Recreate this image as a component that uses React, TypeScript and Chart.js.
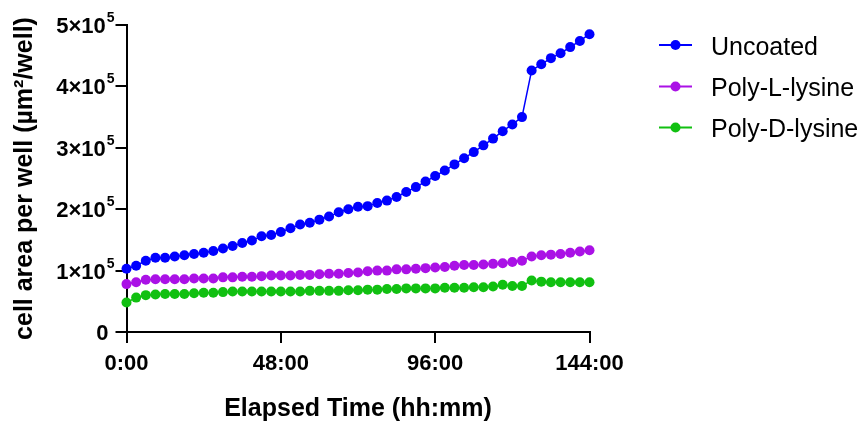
import React, { useEffect, useRef } from 'react';
import { Chart, registerables } from 'chart.js';

Chart.register(...registerables);

const FONT = '"Liberation Sans", Arial, Helvetica, sans-serif';

const hours = [
  0, 3, 6, 9, 12, 15, 18, 21, 24, 27, 30, 33, 36, 39, 42, 45, 48, 51, 54, 57, 60, 63, 66, 69, 72,
  75, 78, 81, 84, 87, 90, 93, 96, 99, 102, 105, 108, 111, 114, 117, 120, 123, 126, 129, 132, 135,
  138, 141, 144,
];

const uncoated = [
  103000, 108000, 116000, 121000, 121000, 123000, 125000, 127000, 129000, 132000, 136000, 140000,
  145000, 149000, 156000, 158000, 163000, 169000, 175000, 178000, 183000, 188000, 195000, 200000,
  204000, 205000, 210000, 214000, 220000, 228000, 236000, 245000, 254000, 263000, 273000, 283000,
  293000, 304000, 315000, 327000, 338000, 350000, 426000, 436000, 446000, 454000, 464000, 474000,
  485000,
];

const polyL = [
  78000, 81000, 85000, 86000, 86000, 86000, 86000, 87000, 87000, 87000, 89000, 89000, 90000, 90000,
  91000, 92000, 92000, 92000, 93000, 93000, 94000, 95000, 95000, 96000, 97000, 99000, 100000,
  100000, 102000, 102000, 103000, 104000, 105000, 106000, 108000, 109000, 109000, 110000, 111000,
  112000, 114000, 116000, 123000, 125000, 126000, 127000, 129000, 131000, 133000,
];

const polyD = [
  48000, 56000, 60000, 61000, 62000, 62000, 62000, 63000, 64000, 64000, 65000, 66000, 66000, 66000,
  66000, 66000, 66000, 66000, 66000, 67000, 67000, 67000, 67000, 68000, 68000, 69000, 69000, 70000,
  70000, 71000, 71000, 71000, 71000, 72000, 72000, 72000, 73000, 73000, 74000, 77000, 75000, 75000,
  84000, 82000, 81000, 81000, 81000, 81000, 81000,
];

const seriesNames = ['Uncoated', 'Poly-L-lysine', 'Poly-D-lysine'];
const seriesColors = ['#0000FF', '#AA11E6', '#11C011'];
const xTickValues = [0, 48, 96, 144];
const yTickValues = [0, 100000, 200000, 300000, 400000, 500000];
const xTitle = 'Elapsed Time (hh:mm)';
const yTitle = 'cell area per well (µm²/well)';

const customPlugin = {
  id: 'customDraw',
  afterDraw(chart: any) {
    const ctx = chart.ctx;
    const yScale = chart.scales.y;
    const left = chart.chartArea.left;
    const tickLeft = left - 11;
    ctx.save();
    ctx.fillStyle = '#000';
    ctx.textBaseline = 'alphabetic';
    yScale.ticks.forEach((t: any) => {
      const y = yScale.getPixelForValue(t.value);
      if (t.value === 0) {
        ctx.font = `bold 22px ${FONT}`;
        ctx.textAlign = 'right';
        ctx.fillText('0', tickLeft - 7, y + 8);
      } else {
        const exp = Math.floor(Math.log10(t.value) + 1e-9);
        const mant = Math.round(t.value / Math.pow(10, exp));
        ctx.font = `bold 14px ${FONT}`;
        const supW = ctx.measureText(String(exp)).width;
        ctx.textAlign = 'left';
        ctx.fillText(String(exp), tickLeft - 1 - supW, y - 3);
        ctx.font = `bold 22px ${FONT}`;
        ctx.textAlign = 'right';
        ctx.fillText(`${mant}×10`, tickLeft - 2 - supW, y + 8);
      }
    });

    // legend
    const lx0 = 659;
    const lx1 = 692;
    const rows = [45, 86.5, 127.5];
    chart.data.datasets.forEach((ds: any, i: number) => {
      const ry = rows[i];
      ctx.strokeStyle = ds.borderColor;
      ctx.lineWidth = 2;
      ctx.beginPath();
      ctx.moveTo(lx0, ry);
      ctx.lineTo(lx1, ry);
      ctx.stroke();
      ctx.fillStyle = ds.pointBackgroundColor;
      ctx.beginPath();
      ctx.arc((lx0 + lx1) / 2, ry, 5, 0, Math.PI * 2);
      ctx.fill();
      ctx.fillStyle = '#000';
      ctx.font = `25px ${FONT}`;
      ctx.textAlign = 'left';
      ctx.textBaseline = 'alphabetic';
      ctx.fillText(ds.label, 711, ry + 9.5);
    });
    ctx.restore();
  },
};

export default function App() {
  const ref = useRef<HTMLCanvasElement | null>(null);

  useEffect(() => {
    if (!ref.current) return;
    Chart.defaults.font.family = FONT;
    const series = [uncoated, polyL, polyD];
    const chart = new Chart(ref.current, {
      type: 'line',
      data: {
        datasets: series.map((vals, i) => ({
          label: seriesNames[i],
          data: hours.map((h, j) => ({ x: h, y: vals[j] })),
          borderColor: seriesColors[i],
          backgroundColor: seriesColors[i],
          pointBackgroundColor: seriesColors[i],
          pointBorderWidth: 0,
          pointRadius: 5,
          borderWidth: 1.5,
          tension: 0,
          fill: false,
          clip: false as any,
        })),
      },
      options: {
        animation: false,
        responsive: false,
        devicePixelRatio: 1,
        layout: { padding: { left: 0, right: 273.5, top: 25, bottom: 0 } },
        plugins: {
          legend: { display: false },
          tooltip: { enabled: false },
        },
        scales: {
          x: {
            type: 'linear',
            min: 0,
            max: 144,
            afterBuildTicks: (scale: any) => {
              scale.ticks = xTickValues.map((v) => ({ value: v }));
            },
            afterFit: (scale: any) => {
              scale.height = 91;
            },
            ticks: {
              color: '#000',
              font: { size: 22, weight: 'bold', family: FONT },
              padding: 8,
              maxRotation: 0,
              callback: (v: any) => `${v}:00`,
            },
            grid: {
              drawOnChartArea: false,
              drawTicks: true,
              tickLength: 11,
              tickWidth: 2,
              tickColor: '#000',
              color: '#000',
              lineWidth: 2,
            },
            border: { display: true, color: '#000', width: 2 },
            title: {
              display: true,
              text: xTitle,
              color: '#000',
              font: { size: 25, weight: 'bold', family: FONT, lineHeight: 1.12 },
              padding: { top: 0, bottom: 0 },
            },
          },
          y: {
            type: 'linear',
            min: 0,
            max: 500000,
            afterBuildTicks: (scale: any) => {
              scale.ticks = yTickValues.map((v) => ({ value: v }));
            },
            afterFit: (scale: any) => {
              scale.width = 126.5;
            },
            ticks: {
              color: 'rgba(0,0,0,0)',
              font: { size: 22, weight: 'bold', family: FONT },
              padding: 8,
            },
            grid: {
              drawOnChartArea: false,
              drawTicks: true,
              tickLength: 11,
              tickWidth: 2,
              tickColor: '#000',
              color: '#000',
              lineWidth: 2,
            },
            border: { display: true, color: '#000', width: 2 },
            title: {
              display: true,
              text: yTitle,
              color: '#000',
              font: { size: 25, weight: 'bold', family: FONT, lineHeight: 1.12 },
              padding: { top: 11, bottom: 0 },
            },
          },
        },
      } as any,
      plugins: [customPlugin],
    });
    return () => chart.destroy();
  }, []);

  return (
    <div style={{ position: 'fixed', left: 0, top: 0, width: 863, height: 423, background: '#fff' }}>
      <canvas ref={ref} width={863} height={423} style={{ display: 'block', width: 863, height: 423 }} />
    </div>
  );
}
